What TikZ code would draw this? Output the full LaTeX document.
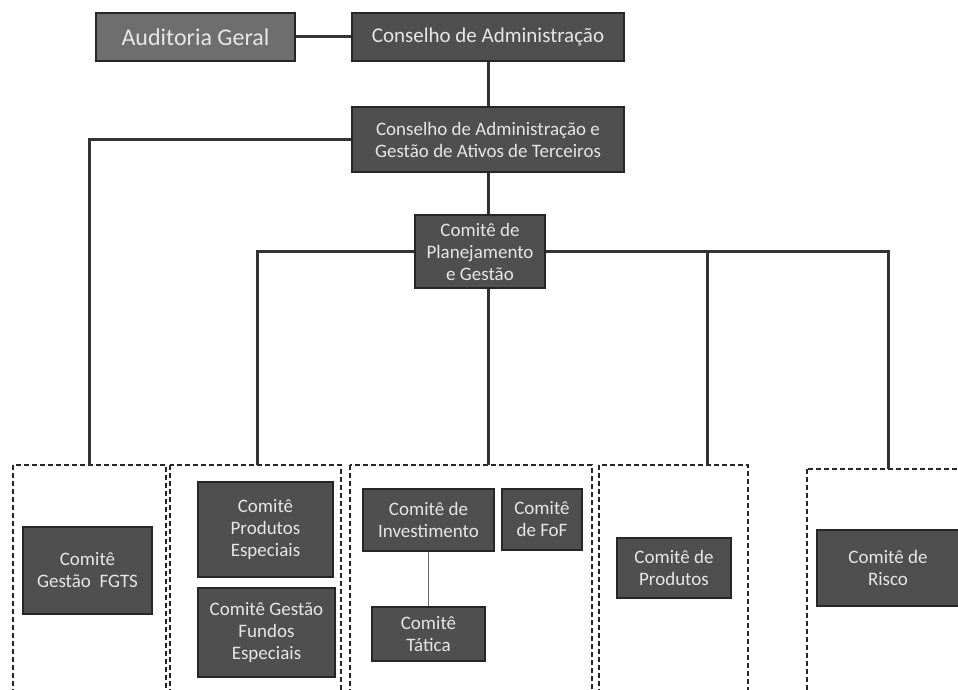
\documentclass[tikz,border=0pt]{standalone}
\usepackage{fontspec}
\setmainfont{Carlito}
\usetikzlibrary{positioning}
\definecolor{boxgray}{HTML}{4F4F4F}
\definecolor{audgray}{HTML}{6E6E6E}
\definecolor{boxtext}{HTML}{E6E6E6}
\tikzset{
  orgbox/.style={draw=black!85, line width=1.5pt, fill=boxgray, text=boxtext,
    align=center, inner sep=2pt, font=\fontsize{19}{22}\selectfont},
  link/.style={line width=3pt, draw=black!80},
  thinlink/.style={line width=1pt, draw=black!60},
  groupbox/.style={draw=black!85, line width=2.5pt, dash pattern=on 5pt off 3pt}
}
\begin{document}
\begin{tikzpicture}[x=1pt,y=-1pt]
  \clip (0,0) rectangle (958,690);
  \fill[white] (0,0) rectangle (958,690);
  % top of the chart
  \node[orgbox, fill=audgray, minimum width=199, minimum height=48, font=\fontsize{24}{26}\selectfont] (aud) at (195.5,37) {Auditoria Geral};
  \node[orgbox, minimum width=272, minimum height=48, font=\fontsize{21}{24}\selectfont] (ca) at (488,37) {Conselho de Administração};
  \node[orgbox, minimum width=272, minimum height=65] (cagat) at (488,139.5) {Conselho de Administração e\\Gestão de Ativos de Terceiros};
  \node[orgbox, minimum width=130, minimum height=73] (cpg) at (480,251.5) {Comitê de\\Planejamento\\e Gestão};
  \draw[link] (aud) -- (ca);
  \draw[link] (ca) -- (cagat);
  \draw[link] (cagat.south) -- (cagat.south |- cpg.north);
  % dashed groups
  \draw[groupbox] (13,465) rectangle (166,700);
  \draw[groupbox] (170,465) rectangle (341,700);
  \draw[groupbox] (350,465) rectangle (592,700);
  \draw[groupbox] (599,465) rectangle (748,700);
  \draw[groupbox] (807,469) rectangle (975,700);
  \coordinate (g1) at (89,465);
  \coordinate (g2) at (257,465);
  \coordinate (g3) at (488,465);
  \coordinate (g4) at (707,465);
  \coordinate (g5) at (888,469);
  % branches
  \draw[link] (cagat.west) -| (g1);
  \draw[link] (cpg.west) -| (g2);
  \draw[link] (cpg.east) -| (g5);
  \draw[link] (g4 |- cpg.east) -- (g4);
  \draw[link] (cagat.south |- cpg.south) -- (g3);
  % committees
  \node[orgbox, minimum width=129, minimum height=87] (fgts) at (87.5,570.5) {Comitê\\Gestão \ FGTS};
  \node[orgbox, minimum width=135, minimum height=95] (cpe) at (265.5,529.5) {Comitê\\Produtos\\Especiais};
  \node[orgbox, minimum width=137, minimum height=89] (cgfe) at (266.5,632.5) {Comitê Gestão\\Fundos\\Especiais};
  \node[orgbox, minimum width=131, minimum height=62] (inv) at (428.5,520) {Comitê de\\Investimento};
  \node[orgbox, minimum width=80, minimum height=61] (fof) at (542,519.5) {Comitê\\de FoF};
  \node[orgbox, minimum width=113, minimum height=54] (tat) at (428.5,634) {Comitê\\Tática};
  \node[orgbox, minimum width=114, minimum height=60] (cp) at (674,568) {Comitê de\\Produtos};
  \node[orgbox, minimum width=142, minimum height=76] (cr) at (888,568) {Comitê de\\Risco};
  \draw[thinlink] (inv) -- (tat);
\end{tikzpicture}
\end{document}
